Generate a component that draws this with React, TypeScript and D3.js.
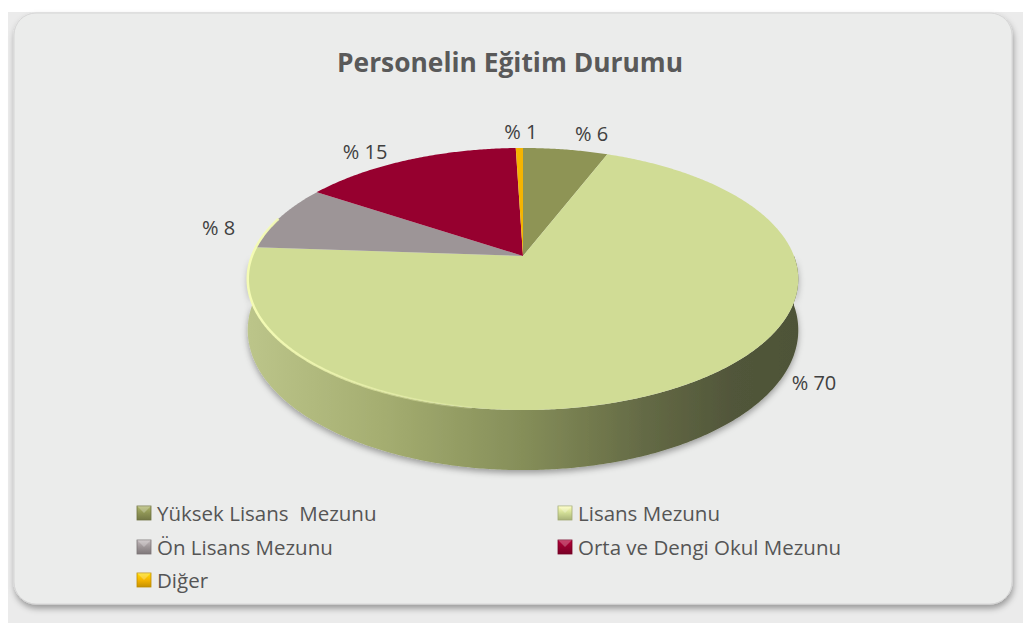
import * as d3 from 'd3';

const CATEGORIES = [
  'Yüksek Lisans  Mezunu',
  'Lisans Mezunu',
  'Ön Lisans Mezunu',
  'Orta ve Dengi Okul Mezunu',
  'Diğer',
];
// percentage shares
const VALUES = [5.9, 70.2, 8.2, 15.2, 0.5];
const COLORS = ['#8e9455', '#d0dc95', '#9d9597', '#96002f', '#f5b400'];
const TITLE = 'Personelin Eğitim Durumu';

const W = 1023;
const H = 623;
// pie geometry (perspective ellipse)
const CX = 523;
const CY = 256;
const RX = 271;
const RY = 127;
const K = 0.1756;
const DEPTH = 49.5;

// small nudges Excel applies to the outside-end labels
const LABEL_NUDGE: [number, number][] = [
  [19, 2],
  [79, -30],
  [-16, 17],
  [-24, 8],
  [2, 1],
];

const proj = (theta: number, r = 1, h = 0): [number, number] => {
  const u = r * Math.sin(theta);
  const v = -r * Math.cos(theta);
  const s = 1 / (1 - K * v);
  return [CX + RX * u * s, CY + (RY * v + h) * s];
};

const sample = (a0: number, a1: number) => {
  const n = Math.max(2, Math.ceil(Math.abs(a1 - a0) / (Math.PI / 360)));
  return d3.range(n + 1).map((i) => a0 + ((a1 - a0) * i) / n);
};

const App = () => {
  const arcs = d3
    .pie<number>()
    .sort(null)
    .value((d) => d)(VALUES);
  const line = d3.line();
  const color = d3.scaleOrdinal<string, string>().domain(CATEGORIES).range(COLORS);

  const topPath = (a0: number, a1: number) =>
    line([[CX, CY], ...sample(a0, a1).map((a) => proj(a))]) + 'Z';

  const wallPath = (a0: number, a1: number) => {
    const s0 = Math.max(a0, Math.PI / 2);
    const s1 = Math.min(a1, (3 * Math.PI) / 2);
    if (s1 <= s0) return null;
    const top = sample(s0, s1).map((a) => proj(a));
    const bottom = sample(s1, s0).map((a) => proj(a, 1, DEPTH));
    return line([...top, ...bottom]) + 'Z';
  };

  const legendCols = [137, 558];
  const legendRows = [513, 547, 580];

  return (
    <svg
      width={W}
      height={H}
      style={{ position: 'absolute', left: 0, top: 0 }}
      fontFamily="'Open Sans', sans-serif"
    >
      <defs>
        <filter id="panelShadow" x="-5%" y="-5%" width="110%" height="115%">
          <feDropShadow dx="1" dy="4" stdDeviation="3" floodColor="#000" floodOpacity="0.35" />
        </filter>
        <filter id="wallShadow" x="-10%" y="-10%" width="120%" height="130%">
          <feDropShadow dx="0" dy="3" stdDeviation="3" floodColor="#000" floodOpacity="0.35" />
        </filter>
        <linearGradient id="wallGrad" gradientUnits="userSpaceOnUse" x1={CX - RX - 5} x2={CX + RX + 5} y1={0} y2={0}>
          <stop offset="0" stopColor="#bcc58a" />
          <stop offset="0.25" stopColor="#a4ad70" />
          <stop offset="0.5" stopColor="#858e59" />
          <stop offset="0.72" stopColor="#646a45" />
          <stop offset="0.88" stopColor="#51563a" />
          <stop offset="1" stopColor="#4e5337" />
        </linearGradient>
        <linearGradient id="rimGrad" gradientUnits="userSpaceOnUse" x1={CX - RX} x2={CX} y1={0} y2={0}>
          <stop offset="0" stopColor="#f4fbb4" stopOpacity="1" />
          <stop offset="1" stopColor="#f4fbb4" stopOpacity="0" />
        </linearGradient>
        {COLORS.map((c, i) => (
          <linearGradient key={i} id={`lg${i}`} x1="0" y1="0" x2="0" y2="1">
            <stop offset="0" stopColor={d3.color(c)!.brighter(0.6).toString()} />
            <stop offset="0.5" stopColor={c} />
            <stop offset="1" stopColor={d3.color(c)!.darker(0.6).toString()} />
          </linearGradient>
        ))}
      </defs>

      <rect x={0} y={0} width={W} height={H} fill="#ffffff" />
      <rect x={8} y={12} width={W - 8} height={H - 12} fill="#ebebeb" />
      <rect
        x={14}
        y={13}
        width={998}
        height={591}
        rx={22}
        fill="#ebeceb"
        stroke="#d6d6d6"
        filter="url(#panelShadow)"
      />

      <text
        x={510}
        y={72}
        textAnchor="middle"
        fontSize={26}
        fontWeight="bold"
        fill="#595959"
        textLength={346}
        lengthAdjust="spacingAndGlyphs"
      >
        {TITLE}
      </text>

      {/* side walls */}
      <g filter="url(#wallShadow)">
        {arcs.map((a, i) => {
          const p = wallPath(a.startAngle, a.endAngle);
          return p ? (
            <path key={i} d={p} fill={i === 1 ? 'url(#wallGrad)' : d3.color(COLORS[i])!.darker(0.8).toString()} />
          ) : null;
        })}
      </g>

      {/* top faces */}
      {arcs.map((a, i) => (
        <path key={i} d={topPath(a.startAngle, a.endAngle)} fill={color(CATEGORIES[i])} />
      ))}
      <path
        d={line(sample(Math.PI * 1.05, Math.PI * 1.6).map((a) => proj(a))) ?? ''}
        fill="none"
        stroke="url(#rimGrad)"
        strokeWidth={2.5}
      />

      {/* data labels */}
      {arcs.map((a, i) => {
        const mid = (a.startAngle + a.endAngle) / 2;
        const [x, y] = proj(mid, 1.2);
        return (
          <text
            key={i}
            x={x + LABEL_NUDGE[i][0]}
            y={y + LABEL_NUDGE[i][1]}
            textAnchor="middle"
            dominantBaseline="central"
            fontSize={20}
            fill="#404040"
          >
            {`% ${Math.round(VALUES[i])}`}
          </text>
        );
      })}

      {/* legend */}
      {CATEGORIES.map((c, i) => {
        const x = legendCols[i % 2];
        const y = legendRows[Math.floor(i / 2)];
        return (
          <g key={c} transform={`translate(${x},${y})`}>
            <rect x={0} y={-7} width={14} height={14} fill={`url(#lg${i})`} stroke={d3.color(COLORS[i])!.darker(0.7).toString()} strokeWidth={0.8} />
            <path d="M0,-7 L7,0 L14,-7 Z" fill="#ffffff" opacity={0.25} />
            <text x={20} y={0} dominantBaseline="central" fontSize={20.5} fill="#555555" style={{ whiteSpace: 'pre' }}>
              {c}
            </text>
          </g>
        );
      })}
    </svg>
  );
};

export default App;
